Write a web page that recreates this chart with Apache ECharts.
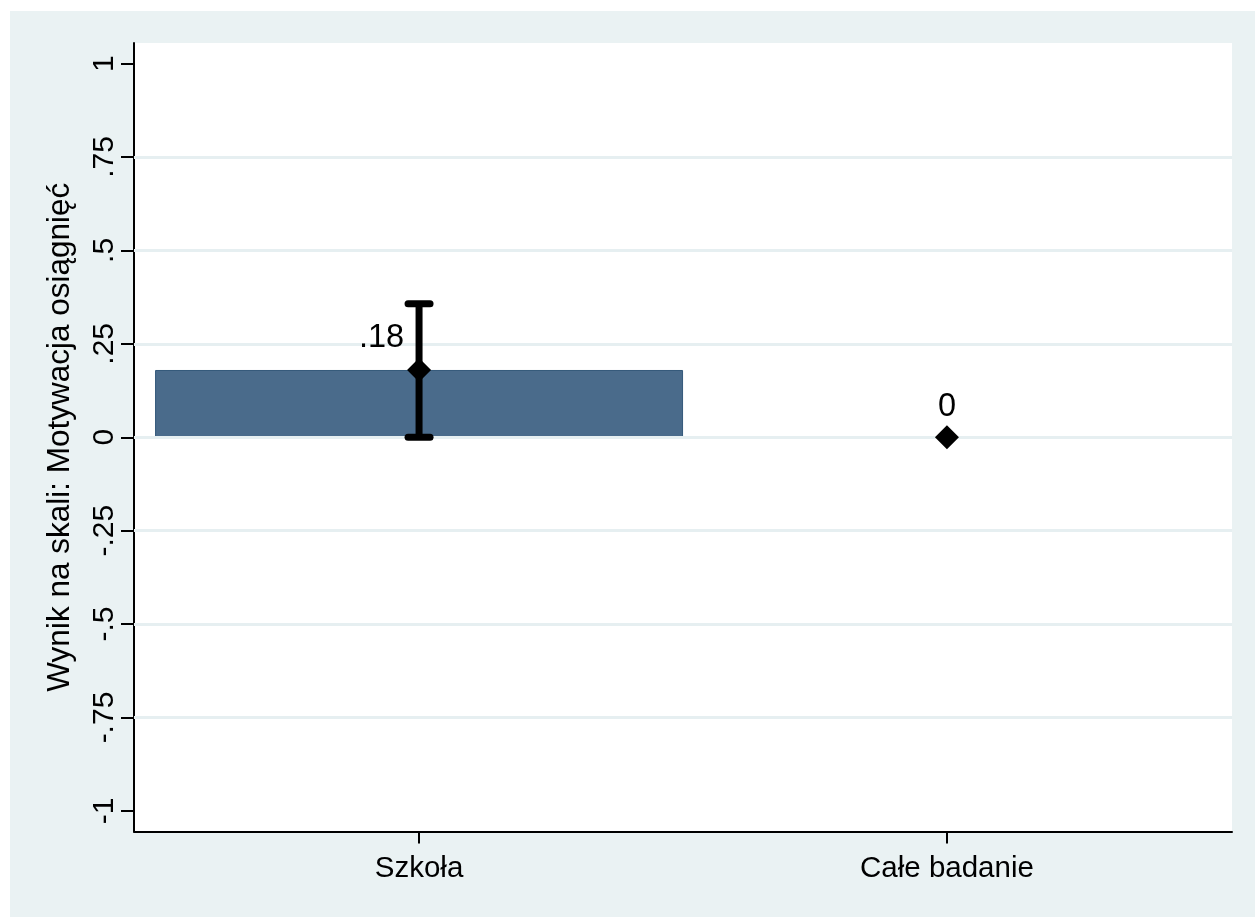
<!DOCTYPE html>
<html>
<head>
<meta charset="utf-8">
<script src="https://cdn.jsdelivr.net/npm/echarts@6/dist/echarts.min.js"></script>
<style>
  html, body { margin: 0; padding: 0; background: #ffffff; }
  #chart { width: 1255px; height: 917px; }
</style>
</head>
<body>
<div id="chart"></div>
<script>
// Group means with 95% confidence intervals
const categories = ['Szkoła', 'Całe badanie'];
const categoryPos = [1, 2];
const means = [0.18, 0];
const ciLower = [0, null];
const ciUpper = [0.357, null];
const barValues = [0.18, 0];
const yTicks = [-1, -0.75, -0.5, -0.25, 0, 0.25, 0.5, 0.75, 1];
const gridValues = [-0.75, -0.5, -0.25, 0, 0.25, 0.5, 0.75];
const yTitle = 'Wynik na skali: Motywacja osiągnięć';

const FONT = '"Liberation Sans", Arial, sans-serif';

// Stata-style number format: drop the leading zero (.25, -.5)
function fmt(v) {
  return String(v).replace(/^(-?)0\./, '$1.');
}

const chart = echarts.init(document.getElementById('chart'), null, { renderer: 'canvas' });

// Value labels: beside the marker when a whisker is in the way, above it otherwise
const meanData = means.map((m, i) => {
  const hasCI = ciUpper[i] != null;
  return {
    value: [categoryPos[i], m],
    label: hasCI
      ? { position: 'left', offset: [2, -32] }
      : { position: 'top', offset: [0, 3] }
  };
});

const ciData = categoryPos
  .map((x, i) => [x, ciLower[i], ciUpper[i]])
  .filter(d => d[1] != null && d[2] != null);

chart.setOption({
  animation: false,
  backgroundColor: 'transparent',
  graphic: [{
    type: 'rect',
    z: -10,
    silent: true,
    shape: { x: 10, y: 11, width: 1245, height: 906 },
    style: { fill: '#EAF2F3' }
  }],
  grid: {
    left: 134, top: 43, right: 23, bottom: 85.5,
    show: true,
    backgroundColor: '#ffffff',
    borderWidth: 0
  },
  xAxis: {
    type: 'value',
    min: 0.46,
    max: 2.54,
    axisLine: { show: true, onZero: false, lineStyle: { color: '#000', width: 2 } },
    axisTick: { show: true, customValues: categoryPos, length: 12, lineStyle: { color: '#000', width: 2 } },
    axisLabel: {
      customValues: categoryPos,
      formatter: v => categories[categoryPos.indexOf(v)] || '',
      color: '#000', fontFamily: FONT, fontSize: 29.5, margin: 22
    },
    splitLine: { show: false }
  },
  yAxis: {
    type: 'value',
    min: -1.055,
    max: 1.055,
    name: yTitle,
    nameLocation: 'middle',
    nameRotate: 90,
    nameGap: 58,
    nameTextStyle: { color: '#000', fontFamily: FONT, fontSize: 31.5 },
    axisLine: { show: true, onZero: false, lineStyle: { color: '#000', width: 2 } },
    axisTick: { show: true, customValues: yTicks, length: 13, lineStyle: { color: '#000', width: 2 } },
    axisLabel: {
      customValues: yTicks,
      formatter: v => fmt(v),
      rotate: 90,
      color: '#000', fontFamily: FONT, fontSize: 30, margin: 14
    },
    splitLine: { show: false }
  },
  series: [
    {
      // horizontal grid lines
      type: 'line',
      data: [],
      z: 1,
      silent: true,
      markLine: {
        silent: true,
        symbol: 'none',
        label: { show: false },
        lineStyle: { color: '#E6EFF1', width: 3, type: 'solid' },
        data: gridValues.map(v => ({ yAxis: v }))
      }
    },
    {
      type: 'bar',
      z: 2,
      barWidth: 528,
      data: categoryPos.map((x, i) => [x, barValues[i]]),
      itemStyle: { color: '#4A6B8B', borderColor: '#34597A', borderWidth: 1 },
      silent: true
    },
    {
      // confidence interval whiskers
      type: 'custom',
      z: 10,
      silent: true,
      clip: false,
      data: ciData,
      renderItem: function (params, api) {
        const x = api.value(0);
        const lo = api.coord([x, api.value(1)]);
        const hi = api.coord([x, api.value(2)]);
        const capW = 29, capH = 7, stemW = 7;
        const fill = { fill: '#000' };
        return {
          type: 'group',
          children: [
            { type: 'rect', shape: { x: lo[0] - stemW / 2, y: hi[1], width: stemW, height: lo[1] - hi[1] }, style: fill },
            { type: 'rect', shape: { x: lo[0] - capW / 2, y: lo[1] - capH / 2, width: capW, height: capH, r: capH / 2 }, style: fill },
            { type: 'rect', shape: { x: hi[0] - capW / 2, y: hi[1] - capH / 2, width: capW, height: capH, r: capH / 2 }, style: fill }
          ]
        };
      }
    },
    {
      type: 'scatter',
      z: 11,
      silent: true,
      symbol: 'diamond',
      symbolSize: [24, 24],
      itemStyle: { color: '#000', opacity: 1 },
      label: {
        show: true,
        formatter: p => fmt(p.value[1]),
        color: '#000', fontFamily: FONT, fontSize: 32.5
      },
      data: meanData
    }
  ]
});
</script>
</body>
</html>
